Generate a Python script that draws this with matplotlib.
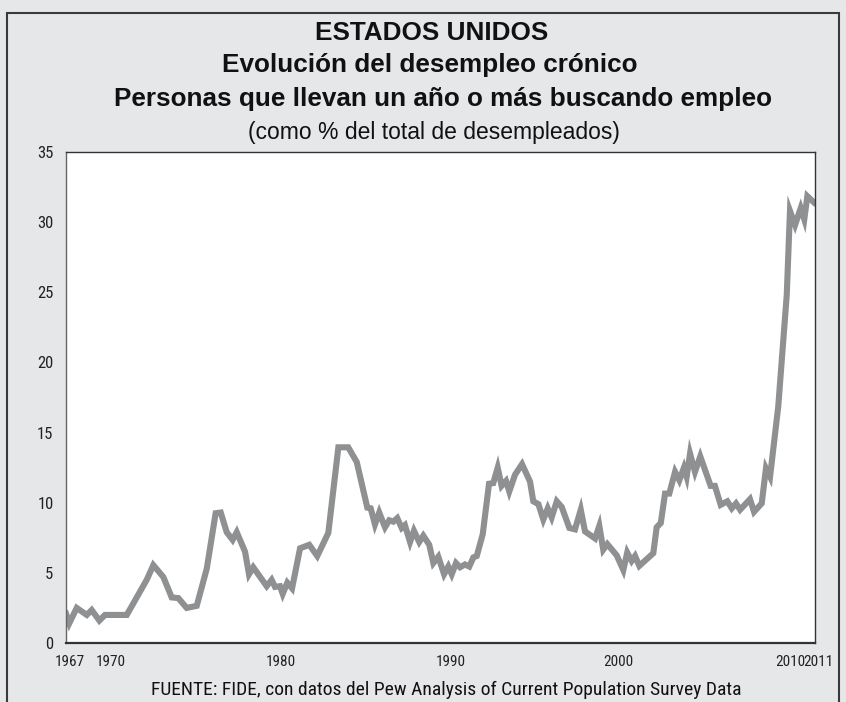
import os
import matplotlib
matplotlib.use("Agg")
import matplotlib.pyplot as plt
from matplotlib.patches import Rectangle
from matplotlib import font_manager
from matplotlib.font_manager import FontProperties
from matplotlib.transforms import ScaledTranslation


def pick_narrow():
    ttf = font_manager.fontManager.ttflist
    prefs = [("Liberation Sans Narrow", False), ("Arial Narrow", False),
             ("Roboto Condensed", False), ("Noto Sans", True),
             ("Noto Sans Condensed", False), ("Open Sans", True),
             ("Open Sans Condensed", False), ("Roboto", True),
             ("DejaVu Sans", True)]
    for name, need_cond in prefs:
        for f in ttf:
            if f.name != name or f.style != "normal":
                continue
            if f.weight not in (400, "normal", "regular", "book"):
                continue
            base = os.path.basename(f.fname)
            cond = (f.stretch in ("condensed", "semi-condensed")) or ("Condensed" in base)
            if "Extra" in base or "Ultra" in base or "Italic" in base or "Bold" in base:
                continue
            if need_cond and not cond:
                continue
            return f.fname
    return None


nfile = pick_narrow()
if nfile:
    def NP(size):
        return FontProperties(fname=nfile, size=size)
else:
    def NP(size):
        return FontProperties(family="Liberation Sans", size=size * 0.9)

# --- data (year, % of unemployed out of work one year or more) ---
years = [1967.00, 1967.19, 1967.63, 1968.22, 1968.51, 1968.96, 1969.29, 1970.57,
         1971.74, 1972.13, 1972.72, 1973.21, 1973.60, 1974.09, 1974.68, 1975.27,
         1975.79, 1976.09, 1976.44, 1976.79, 1977.03, 1977.52, 1977.75, 1978.00,
         1978.79, 1979.08, 1979.28, 1979.57, 1979.73, 1980.00, 1980.28, 1980.75,
         1981.29, 1981.76, 1982.41, 1983.00, 1983.58, 1984.08, 1984.70, 1984.90,
         1985.15, 1985.40, 1985.74, 1985.99, 1986.23, 1986.46, 1986.72, 1986.91,
         1987.21, 1987.44, 1987.75, 1987.99, 1988.34, 1988.58, 1988.87, 1989.21,
         1989.46, 1989.66, 1989.91, 1990.15, 1990.44, 1990.69, 1990.93, 1991.13,
         1991.48, 1991.85, 1992.10, 1992.36, 1992.59, 1992.85, 1993.04, 1993.38,
         1993.79, 1994.26, 1994.45, 1994.75, 1995.04, 1995.30, 1995.53, 1995.83,
         1996.12, 1996.57, 1996.90, 1997.24, 1997.49, 1998.08, 1998.33, 1998.56,
         1998.80, 1999.35, 1999.74, 1999.97, 2000.23, 2000.43, 2000.68, 2001.50,
         2001.70, 2001.94, 2002.19, 2002.44, 2002.78, 2003.03, 2003.30, 2003.46,
         2003.66, 2003.95, 2004.26, 2004.87, 2005.12, 2005.46, 2005.85, 2006.11,
         2006.36, 2006.60, 2007.18, 2007.42, 2007.87, 2008.12, 2008.36, 2008.84,
         2009.34, 2009.53, 2009.83, 2010.16, 2010.37, 2010.55, 2010.94]
values = [2.1, 1.4, 2.5, 2.0, 2.35, 1.6, 2.0, 2.0,
          4.5, 5.55, 4.7, 3.25, 3.2, 2.5, 2.65, 5.3,
          9.25, 9.3, 7.9, 7.35, 7.9, 6.5, 4.9, 5.4,
          4.05, 4.5, 4.0, 4.05, 3.5, 4.3, 3.9, 6.75,
          7.0, 6.2, 7.85, 13.95, 13.95, 12.9, 9.65, 9.6,
          8.45, 9.3, 8.25, 8.75, 8.65, 8.9, 8.2, 8.4,
          7.2, 8.0, 7.2, 7.65, 7.0, 5.7, 6.15, 4.9,
          5.45, 4.9, 5.7, 5.4, 5.6, 5.45, 6.1, 6.2,
          7.75, 11.35, 11.4, 12.5, 11.2, 11.55, 10.8, 12.0,
          12.75, 11.5, 10.1, 9.9, 8.8, 9.6, 8.95, 10.1,
          9.7, 8.2, 8.1, 9.5, 7.95, 7.45, 8.35, 6.65,
          7.05, 6.25, 5.2, 6.45, 5.85, 6.2, 5.5, 6.4,
          8.25, 8.55, 10.65, 10.65, 12.2, 11.6, 12.5, 11.85,
          13.5, 12.2, 13.3, 11.2, 11.2, 9.85, 10.1, 9.6,
          9.95, 9.5, 10.25, 9.35, 9.95, 12.45, 11.85, 16.85,
          24.8, 30.8, 29.8, 31.0, 30.2, 31.85, 31.4]

x_ticks = [1967, 1970, 1980, 1990, 2000, 2010, 2011]
y_ticks = [0, 5, 10, 15, 20, 25, 30, 35]

title_lines = ["ESTADOS UNIDOS",
               "Evolución del desempleo crónico",
               "Personas que llevan un año o más buscando empleo"]
subtitle = "(como % del total de desempleados)"
source = "FUENTE: FIDE, con datos del Pew Analysis of Current Population Survey Data"

W, H = 846, 702
fig = plt.figure(figsize=(W / 100, H / 100), dpi=100)
fig.patch.set_facecolor("#e6e7e8")

# outer frame
fig.patches.append(Rectangle((7 / W, -0.05), (839 - 7) / W, (H - 13) / H + 0.05,
                             transform=fig.transFigure, fill=False,
                             edgecolor="#3a3a3a", linewidth=1.5))

ax = fig.add_axes([66 / W, (H - 643) / H, (815 - 66) / W, (643 - 152) / H])
ax.set_facecolor("white")
ax.plot(years, values, color="#8e9092", linewidth=4.4, solid_joinstyle="miter")
ax.set_xlim(1967, 2011)
ax.set_ylim(0, 35)
ax.set_xticks(x_ticks)
ax.set_xticklabels([str(t) for t in x_ticks])
ax.set_yticks(y_ticks)
ax.set_yticklabels([str(t) for t in y_ticks])
for lab in ax.get_yticklabels():
    lab.set_fontproperties(NP(12))
for lab in ax.get_xticklabels():
    lab.set_fontproperties(NP(11))
ax.tick_params(length=0, pad=9, colors="#222222")
ax.tick_params(axis="x", pad=9)

# small horizontal nudges so the crowded 2010/2011 labels sit apart
shift_px = {1967: 4, 1970: -6, 1980: -6, 1990: -7, 2000: -9, 2010: -8, 2011: 3}
for t, lab in zip(x_ticks, ax.get_xticklabels()):
    lab.set_transform(lab.get_transform() +
                      ScaledTranslation(shift_px[t] / 100, 0, fig.dpi_scale_trans))

for s in ax.spines.values():
    s.set_color("#333333")
    s.set_linewidth(1.0)
ax.spines["bottom"].set_linewidth(1.6)
ax.spines["left"].set_color("#666666")

title_x = [432, 430, 443]
title_y = [33, 65, 99]
for t, x, y in zip(title_lines, title_x, title_y):
    fig.text(x / W, 1 - y / H, t, ha="center", va="center",
             family="Liberation Sans", fontweight="bold", fontsize=18.8, color="#111111")
fig.text(434 / W, 1 - 133 / H, subtitle, ha="center", va="center",
         family="Liberation Sans", fontsize=16.5, color="#111111")
fig.text(446 / W, 1 - 690 / H, source, ha="center", va="center",
         fontproperties=NP(14), color="#111111")

fig.savefig("out.png", dpi=100, facecolor=fig.get_facecolor())
